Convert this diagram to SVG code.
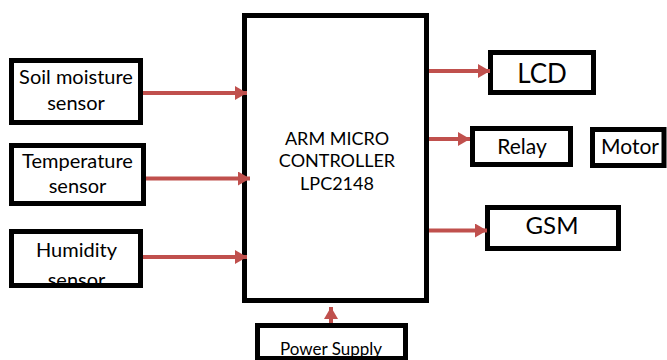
<svg xmlns="http://www.w3.org/2000/svg" width="667" height="360" viewBox="0 0 667 360">
<style>
.box{fill:#fff;stroke:#000;stroke-width:5}
.frame{fill:none;stroke:#000;stroke-width:5}
.t{font-family:Lato,"Open Sans","Liberation Sans",sans-serif;fill:#000;text-anchor:middle}
.conn{stroke:#C0504D;stroke-width:4;fill:none;marker-end:url(#ah)}
</style>
<defs>
<marker id="ah" markerUnits="userSpaceOnUse" markerWidth="12" markerHeight="14" refX="12" refY="7" orient="auto">
<path d="M0,0 L12,7 L0,14 Z" fill="#C0504D"/>
</marker>
</defs>
<rect width="667" height="360" fill="#fff"/>
<g id="mcu">
<rect class="box" x="244.5" y="15.5" width="182" height="285"/>
<text class="t" x="337" y="145" font-size="18">ARM MICRO</text>
<text class="t" x="337" y="167" font-size="18">CONTROLLER</text>
<text class="t" x="337" y="190" font-size="18">LPC2148</text>
</g>
<g id="soil">
<rect class="box" x="11.5" y="60.5" width="129" height="62"/>
<text class="t" x="76" y="84" font-size="20">Soil moisture</text>
<text class="t" x="76" y="110" font-size="20">sensor</text>
</g>
<g id="temp">
<rect class="box" x="11.5" y="145.5" width="132" height="58"/>
<text class="t" x="77.5" y="167.5" font-size="20">Temperature</text>
<text class="t" x="77.5" y="193" font-size="20">sensor</text>
</g>
<g id="humidity">
<rect x="11.5" y="231.5" width="129" height="54" fill="#fff"/>
<text class="t" x="76.5" y="257" font-size="20">Humidity</text>
<text class="t" x="76.5" y="287" font-size="20">sensor</text>
<rect fill="#fff" x="9" y="286" width="136" height="8"/>
<rect class="frame" x="11.5" y="231.5" width="129" height="54"/>
</g>
<g id="lcd">
<rect class="box" x="490.5" y="52.5" width="103" height="40"/>
<text class="t" x="542" y="82.5" font-size="26">LCD</text>
</g>
<g id="relay">
<rect class="box" x="472.5" y="128.5" width="98" height="36"/>
<text class="t" x="522" y="153.5" font-size="21">Relay</text>
</g>
<g id="motor">
<rect class="box" x="592.5" y="129.5" width="71.5" height="36"/>
<text class="t" x="630" y="153.5" font-size="21">Motor</text>
</g>
<g id="gsm">
<rect class="box" x="487.5" y="207.5" width="131" height="41"/>
<text class="t" x="552" y="233.5" font-size="24">GSM</text>
</g>
<g id="power">
<rect class="box" x="257.5" y="325.5" width="148" height="33"/>
<text class="t" x="331" y="355" font-size="17">Power Supply</text>
</g>
<g id="connectors">
<line class="conn" x1="143" y1="93" x2="247" y2="93"/>
<line class="conn" x1="146" y1="178.5" x2="250" y2="178.5"/>
<line class="conn" x1="143" y1="257" x2="247" y2="257"/>
<line class="conn" x1="429" y1="71" x2="490" y2="71"/>
<line class="conn" x1="429" y1="139" x2="470" y2="139"/>
<line class="conn" x1="429" y1="230.5" x2="487" y2="230.5"/>
<line class="conn" x1="331" y1="323" x2="331" y2="307"/>
</g>
</svg>
